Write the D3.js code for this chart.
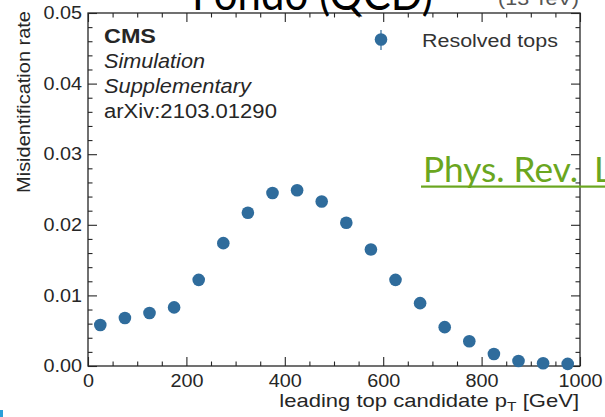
<!DOCTYPE html>
<html>
<head>
<meta charset="utf-8">
<script src="https://cdn.jsdelivr.net/npm/d3@7"></script>
<style>
  html, body { margin: 0; padding: 0; background: #fff; }
  svg { display: block; }
</style>
</head>
<body>
<script>
// ---------------- data ----------------
const binCenters = [25, 75, 125, 175, 225, 275, 325, 375, 425, 475, 525, 575, 625, 675, 725, 775, 825, 875, 925, 975];
const misidRate  = [0.0058, 0.0068, 0.0075, 0.0083, 0.0122, 0.0174, 0.0217, 0.0245, 0.0249, 0.0233,
                    0.0203, 0.0165, 0.0122, 0.0089, 0.0055, 0.0035, 0.0017, 0.0007, 0.0004, 0.0003];
const xMajorTicks = [0, 200, 400, 600, 800, 1000];
const xMinorTicks = d3.range(0, 1001, 50).filter(v => v % 200 !== 0);
const yMajorTicks = [0, 0.01, 0.02, 0.03, 0.04, 0.05];
const yMinorTicks = [0.002,0.004,0.006,0.008,0.012,0.014,0.016,0.018,0.022,0.024,0.026,0.028,0.032,0.034,0.036,0.038,0.042,0.044,0.046,0.048];
const seriesName = "Resolved tops";
const xTitle = ["leading top candidate p", "T", " [GeV]"];
const yTitle = "Misidentification rate";
const cmsLines = ["CMS", "Simulation", "Supplementary", "arXiv:2103.01290"];
const slideTitle = "Fondo (QCD)";
const energyLabel = "(13 TeV)";
const linkParts = ["Phys. Rev.", "Lett."];

// ---------------- setup ----------------
const W = 605, H = 417;
const svg = d3.select("body").append("svg").attr("width", W).attr("height", H);
const x = d3.scaleLinear().domain([0, 1000]).range([88, 580]);
const y = d3.scaleLinear().domain([0, 0.05]).range([366, 13]);
const ink = "#262626";
const markerColor = "#2f6c9c";
const sans = "'Liberation Sans', Arial, Helvetica, sans-serif";

function stretch(sel, f) {
  sel.each(function () {
    const w = this.getComputedTextLength();
    this.setAttribute("textLength", w * f);
    this.setAttribute("lengthAdjust", "spacingAndGlyphs");
  });
}
// place text in a group and scale horizontally to reach target width
function placeText(parent, o) {
  const g = parent.append("g");
  const t = g.append("text")
    .attr("text-anchor", o.anchor || "start")
    .attr("font-family", o.family || sans)
    .attr("font-size", o.size)
    .attr("font-weight", o.weight || "normal")
    .attr("font-style", o.style || "normal")
    .attr("fill", o.fill || ink);
  if (Array.isArray(o.text)) {
    t.append("tspan").text(o.text[0]);
    t.append("tspan").attr("font-size", o.size * 0.7).attr("dy", 4).text(o.text[1]);
    t.append("tspan").attr("dy", -4).text(o.text[2]);
  } else t.text(o.text);
  const w = t.node().getBBox().width;
  const sx = o.target ? o.target / w : 1;
  g.attr("transform", `translate(${o.x},${o.y})` + (o.rotate ? ` rotate(${o.rotate})` : "") + ` scale(${sx},1)`);
  return t;
}

// ---------------- axes ----------------
const axG = svg.append("g");
function styleAxis(g) {
  g.select(".domain").remove();
  g.selectAll(".tick line").attr("stroke", ink).attr("stroke-width", 1.1);
  g.selectAll("text").attr("fill", ink).attr("font-family", sans).attr("font-size", 18);
}
// bottom
axG.append("g").attr("transform", `translate(0,${y(0)})`)
  .call(d3.axisBottom(x).tickValues(xMajorTicks).tickSizeInner(-9).tickSizeOuter(0).tickPadding(8).tickFormat(d3.format("d")))
  .call(styleAxis)
  .call(g => stretch(g.selectAll("text"), 1.1));
axG.append("g").attr("transform", `translate(0,${y(0)})`)
  .call(d3.axisBottom(x).tickValues(xMinorTicks).tickSizeInner(-4.5).tickSizeOuter(0).tickFormat(""))
  .call(styleAxis);
// top
axG.append("g").attr("transform", `translate(0,${y(0.05)})`)
  .call(d3.axisTop(x).tickValues(xMajorTicks).tickSizeInner(-9).tickSizeOuter(0).tickFormat(""))
  .call(styleAxis);
axG.append("g").attr("transform", `translate(0,${y(0.05)})`)
  .call(d3.axisTop(x).tickValues(xMinorTicks).tickSizeInner(-4.5).tickSizeOuter(0).tickFormat(""))
  .call(styleAxis);
// left
axG.append("g").attr("transform", `translate(${x(0)},0)`)
  .call(d3.axisLeft(y).tickValues(yMajorTicks).tickSizeInner(-9).tickSizeOuter(0).tickPadding(6).tickFormat(d3.format(".2f")))
  .call(styleAxis)
  .call(g => stretch(g.selectAll("text"), 1.1));
axG.append("g").attr("transform", `translate(${x(0)},0)`)
  .call(d3.axisLeft(y).tickValues(yMinorTicks).tickSizeInner(-4.5).tickSizeOuter(0).tickFormat(""))
  .call(styleAxis);
// right
axG.append("g").attr("transform", `translate(${x(1000)},0)`)
  .call(d3.axisRight(y).tickValues(yMajorTicks).tickSizeInner(-9).tickSizeOuter(0).tickFormat(""))
  .call(styleAxis);
axG.append("g").attr("transform", `translate(${x(1000)},0)`)
  .call(d3.axisRight(y).tickValues(yMinorTicks).tickSizeInner(-4.5).tickSizeOuter(0).tickFormat(""))
  .call(styleAxis);
// frame
axG.append("rect")
  .attr("x", x(0)).attr("y", y(0.05))
  .attr("width", x(1000) - x(0)).attr("height", y(0) - y(0.05))
  .attr("fill", "none").attr("stroke", ink).attr("stroke-width", 1.3);

// ---------------- data points ----------------
svg.append("g").selectAll("circle")
  .data(binCenters.map((c, i) => ({ c, v: misidRate[i] })))
  .join("circle")
  .attr("cx", d => x(d.c)).attr("cy", d => y(d.v))
  .attr("r", 6.3).attr("fill", markerColor);

// ---------------- axis titles ----------------
placeText(svg, { x: 579, y: 407, text: xTitle, anchor: "end", size: 18, target: 300 });
placeText(svg, { x: 30, y: 102, text: yTitle, anchor: "middle", size: 19, rotate: -90, target: 182 });

// ---------------- legend ----------------
const lg = svg.append("g");
lg.append("line").attr("x1", 381).attr("x2", 381).attr("y1", 30).attr("y2", 50)
  .attr("stroke", markerColor).attr("stroke-width", 1.2);
lg.append("circle").attr("cx", 381).attr("cy", 39.5).attr("r", 6.3).attr("fill", markerColor);
placeText(lg, { x: 422, y: 47, text: seriesName, size: 19, target: 136, fill: "#333" });

// ---------------- CMS label ----------------
placeText(svg, { x: 104, y: 42.5, text: cmsLines[0], size: 20, weight: "bold", target: 52 });
placeText(svg, { x: 104, y: 68, text: cmsLines[1], size: 20, style: "italic", target: 101 });
placeText(svg, { x: 104, y: 93, text: cmsLines[2], size: 20, style: "italic", target: 148 });
placeText(svg, { x: 104, y: 118, text: cmsLines[3], size: 20, target: 173 });

// ---------------- energy label (clipped at top, as in the reference) ----------------
placeText(svg, { x: 579, y: 5, text: energyLabel, anchor: "end", size: 18, target: 81, fill: "#555" });

// ---------------- slide overlays ----------------
placeText(svg, { x: 192, y: 10, text: slideTitle, family: "Lato, 'Open Sans', sans-serif", size: 46, target: 241, fill: "#000" });

const green = "#6aa620";
const lt = svg.append("text")
  .attr("x", 423).attr("y", 182)
  .attr("font-family", "Lato, 'Open Sans', sans-serif")
  .attr("font-size", 35).attr("fill", green);
lt.append("tspan").text(linkParts[0]);
lt.append("tspan").attr("x", 594).text(linkParts[1]);
const sub = lt.node().getSubStringLength(0, linkParts[0].length);
lt.attr("font-size", 35 * 155 / sub);
svg.append("rect").attr("x", 421).attr("y", 185.5).attr("width", 190).attr("height", 2.2).attr("fill", green);

// small slide artefact bottom-left
svg.append("rect").attr("x", 0).attr("y", 410).attr("width", 3).attr("height", 7).attr("fill", "#2a9fd8");
</script>
</body>
</html>
